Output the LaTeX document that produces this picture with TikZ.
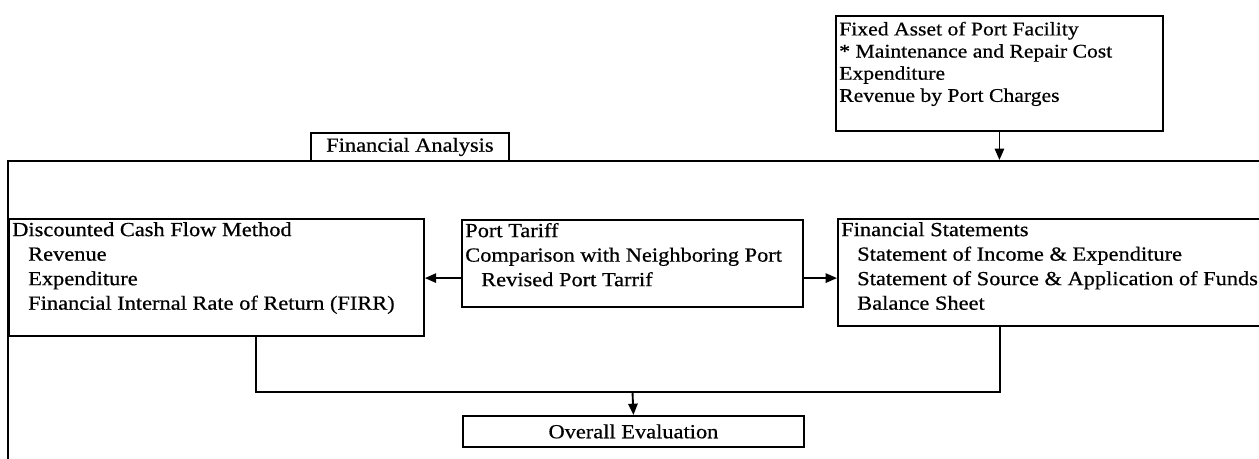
\documentclass[tikz,border=0pt]{standalone}
\usepackage{fontspec}
\setmainfont{Liberation Serif}[FakeStretch=1.12,FakeBold=0.6]
\usepackage{tikz}
\usetikzlibrary{arrows.meta,positioning,calc}

\newcommand{\boxlines}[3]{\parbox[c][#2][t]{#1}{\raggedright #3}}
\newcommand{\ind}{\hspace*{12pt}}

\begin{document}
\begin{tikzpicture}[x=0.75pt,y=-0.75pt,
    line width=1.4pt,
    >={Triangle[length=8.5pt,width=7pt]},
    every node/.style={font=\fontsize{15}{18.4}\selectfont},
    box/.style={draw,rectangle,anchor=north west,inner xsep=2.5pt,inner ysep=0pt},
    tag/.style={draw,rectangle,anchor=north west,inner sep=0pt}
    ]
    \useasboundingbox (0,0) rectangle (1259,459);
    \clip (0,0) rectangle (1259,459);

    % outer frame, runs off the page at right and bottom
    \node[tag,minimum width=955pt,minimum height=240pt] (frame) at (7,160) {};
    \node[tag,minimum width=148.5pt,minimum height=21pt] (fa) at (310,132) {Financial Analysis};

    \node[box] (fixed) at (835,15)
        {\boxlines{240.25pt}{86.25pt}{\fontsize{14.5}{16.6}\selectfont\vspace*{3pt}\strut Fixed Asset of Port Facility\\
         {*} Maintenance and Repair Cost\\
         Expenditure\\
         Revenue by Port Charges}};

    \node[box] (dcf) at (8,218)
        {\boxlines{306.25pt}{87.75pt}{\strut Discounted Cash Flow Method\\
         \ind Revenue\\
         \ind Expenditure\\
         \ind Financial Internal Rate of Return (FIRR)}};
    \node[box] (pt) at (461,219)
        {\boxlines{250.75pt}{65.25pt}{\strut Port Tariff\\
         Comparison with Neighboring Port\\
         \ind Revised Port Tarrif}};
    \node[box] (fs) at (837,218)
        {\boxlines{325pt}{80.25pt}{\strut Financial Statements\\
         \ind Statement of Income \& Expenditure\\
         \ind Statement of Source \& Application of Funds\\
         \ind Balance Sheet}};

    \node[tag,minimum width=255.75pt,minimum height=23.25pt] (overall) at (462,415) {Overall Evaluation};
    \coordinate (merge) at (632.5,392);

    \draw [->] (fixed.south) -- (fixed.south |- frame.north);
    \draw [->] ([yshift=-11pt]pt.west) -- ([yshift=-11pt]pt.west -| dcf.east);
    \draw [->] ([yshift=-11pt]pt.east) -- ([yshift=-11pt]pt.east -| fs.west);
    \draw ([xshift=29.6pt]dcf.south) |- (merge) -| ([xshift=122.25pt]fs.south west);
    \draw [->] (merge) -- (overall.north);
\end{tikzpicture}
\end{document}
